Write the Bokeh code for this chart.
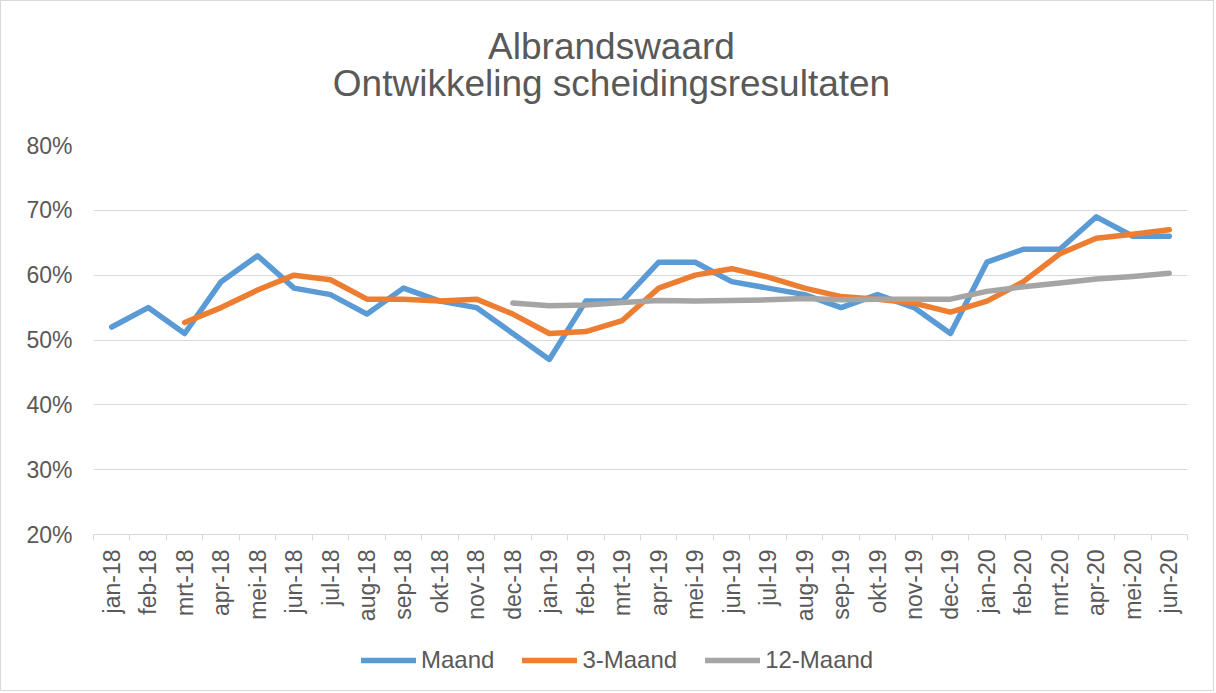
import numpy as np
from bokeh.plotting import figure
from bokeh.layouts import column
from bokeh.models import (ColumnDataSource, FixedTicker, NumeralTickFormatter,
                          Legend, LegendItem, Label, Range1d)
from bokeh.embed import file_html
from bokeh.resources import INLINE

title_lines = ["Albrandswaard", "Ontwikkeling scheidingsresultaten"]

months = ["jan-18", "feb-18", "mrt-18", "apr-18", "mei-18", "jun-18", "jul-18",
          "aug-18", "sep-18", "okt-18", "nov-18", "dec-18", "jan-19", "feb-19",
          "mrt-19", "apr-19", "mei-19", "jun-19", "jul-19", "aug-19", "sep-19",
          "okt-19", "nov-19", "dec-19", "jan-20", "feb-20", "mrt-20", "apr-20",
          "mei-20", "jun-20"]

maand = [0.52, 0.55, 0.51, 0.59, 0.63, 0.58, 0.57, 0.54, 0.58, 0.56, 0.55, 0.51,
         0.47, 0.56, 0.56, 0.62, 0.62, 0.59, 0.58, 0.57, 0.55, 0.57, 0.55, 0.51,
         0.62, 0.64, 0.64, 0.69, 0.66, 0.66]

maand3 = [None, None, 0.527, 0.550, 0.577, 0.600, 0.593, 0.563, 0.563, 0.560,
          0.563, 0.540, 0.510, 0.513, 0.530, 0.580, 0.600, 0.610, 0.597, 0.580,
          0.567, 0.563, 0.557, 0.543, 0.560, 0.590, 0.633, 0.657, 0.663, 0.670]

maand12 = [None, None, None, None, None, None, None, None, None, None, None,
           0.557, 0.553, 0.554, 0.558, 0.561, 0.560, 0.561, 0.562, 0.564, 0.562,
           0.563, 0.563, 0.563, 0.575, 0.582, 0.588, 0.594, 0.598, 0.603]

series_names = ["Maand", "3-Maand", "12-Maand"]
series_colors = ["#5B9BD5", "#ED7D31", "#A5A5A5"]

y_ticks = [0.2, 0.3, 0.4, 0.5, 0.6, 0.7, 0.8]

FONT = "Liberation Sans"
TXT = "#595959"
GRID = "#D9D9D9"
W = 1212

idx = list(range(len(months)))
def nanify(v):
    return [np.nan if a is None else a for a in v]

src = ColumnDataSource(dict(x=idx, maand=maand, m3=nanify(maand3), m12=nanify(maand12)))

# ---------- title strip ----------
pt = figure(width=W, height=110, output_backend="svg", toolbar_location=None,
            x_axis_type=None, y_axis_type=None, min_border=0,
            x_range=Range1d(0, 1), y_range=Range1d(0, 1))
pt.outline_line_color = None
pt.grid.visible = False
for txt, ypos in zip(title_lines, [65, 28]):
    pt.add_layout(Label(x=518, y=ypos, x_units="screen", y_units="screen", text=txt,
                        text_align="center", text_baseline="alphabetic",
                        text_font=FONT, text_font_size="37px", text_color=TXT))

# ---------- main plot ----------
p = figure(width=W, height=518, output_backend="svg", toolbar_location=None,
           x_range=Range1d(-0.5, len(months) - 0.5), y_range=Range1d(0.2, 0.8),
           min_border_left=92, min_border_right=26, min_border_top=34,
           min_border_bottom=95)
p.outline_line_color = None
p.background_fill_color = "white"
p.border_fill_color = "white"

l1 = p.line("x", "maand", source=src, line_color=series_colors[0], line_width=5.5,
            line_join="round", line_cap="round")
l2 = p.line("x", "m3", source=src, line_color=series_colors[1], line_width=5.5,
            line_join="round", line_cap="round")
l3 = p.line("x", "m12", source=src, line_color=series_colors[2], line_width=5.5,
            line_join="round", line_cap="round")

xa = p.xaxis[0]
xa.ticker = FixedTicker(ticks=idx, minor_ticks=[i - 0.5 for i in range(len(months) + 1)])
xa.major_label_overrides = {i: m for i, m in enumerate(months)}
xa.major_label_orientation = np.pi / 2
xa.major_tick_out = 0
xa.major_tick_in = 0
xa.minor_tick_out = 6
xa.minor_tick_in = 0
xa.minor_tick_line_color = GRID
xa.axis_line_color = GRID
xa.axis_line_width = 1
xa.major_label_text_font = FONT
xa.major_label_text_font_size = "23px"
xa.major_label_text_color = TXT
xa.major_label_standoff = 9

ya = p.yaxis[0]
ya.ticker = FixedTicker(ticks=y_ticks)
ya.formatter = NumeralTickFormatter(format="0%")
ya.axis_line_color = None
ya.major_tick_line_color = None
ya.minor_tick_line_color = None
ya.major_label_text_font = FONT
ya.major_label_text_font_size = "23px"
ya.major_label_text_color = TXT
ya.major_label_standoff = 15

p.xgrid.visible = False
p.ygrid.ticker = FixedTicker(ticks=y_ticks)
p.ygrid.grid_line_color = GRID
p.ygrid.grid_line_width = 1

# ---------- legend strip ----------
pl = figure(width=W, height=61, output_backend="svg", toolbar_location=None,
            x_axis_type=None, y_axis_type=None, min_border=0,
            x_range=Range1d(0, 1), y_range=Range1d(0, 1))
pl.outline_line_color = None
pl.grid.visible = False
items = []
for name, col in zip(series_names, series_colors):
    r = pl.line(x=[2, 3], y=[2, 3], line_color=col, line_width=5.5, line_cap="round")
    items.append(LegendItem(label=name, renderers=[r]))
legend = Legend(items=items, orientation="horizontal", location=(268, 16),
                label_text_font=FONT, label_text_font_size="24px",
                label_text_color=TXT, glyph_width=55, glyph_height=26,
                label_height=26, label_standoff=5, spacing=28,
                border_line_color=None, background_fill_alpha=0,
                padding=0, margin=0)
pl.add_layout(legend, "center")

layout = column(pt, p, pl, spacing=0, styles={"border": "1px solid #D9D9D9"})

open("out.html", "w").write(file_html(layout, INLINE))
